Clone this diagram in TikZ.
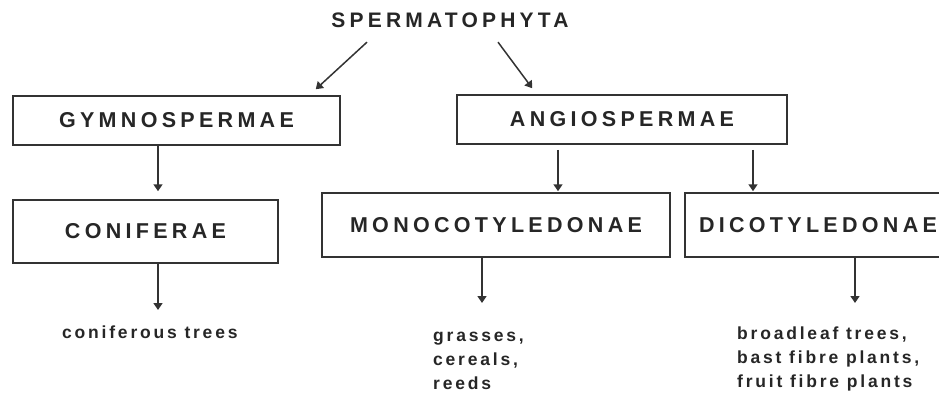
\documentclass[tikz,border=0pt]{standalone}
\usepackage{fontspec}
\setmainfont{Liberation Sans}
\newfontfamily\taxfont[LetterSpace=20]{Liberation Sans}
\newfontfamily\plantfont[LetterSpace=16]{Liberation Sans}
\usetikzlibrary{arrows.meta,positioning}
\tikzset{
  title/.style={inner sep=0pt, font=\taxfont\bfseries\fontsize{21}{24}\selectfont, text=black!85},
  taxon/.style={rectangle, draw=black!80, line width=1.5pt, inner sep=0pt,
                font=\taxfont\bfseries\fontsize{21.5}{24}\selectfont, text=black!85},
  uses/.style={align=left, inner sep=0pt, font=\plantfont\bfseries\fontsize{17.5}{24}\selectfont, text=black!85},
  arr/.style={-{Triangle[length=7pt,width=9pt]}, line width=1.5pt, draw=black!80},
}
\begin{document}
\begin{tikzpicture}[x=1pt, y=-1pt]
    \useasboundingbox (0,0) rectangle (939,396);
    \node[title] (sperm) at (450,20.5) {SPERMATOPHYTA};
    \node[taxon, minimum width=327pt, minimum height=49pt] (gym) at (176.5,120.5) {GYMNOSPERMAE};
    \node[taxon, minimum width=330pt, minimum height=49pt] (angio) at (622,119.5) {ANGIOSPERMAE};
    \node[taxon, minimum width=265pt, minimum height=63pt] (conif) at (145.5,231.5) {CONIFERAE};
    \node[taxon, minimum width=348pt, minimum height=64pt] (mono) at (496,225) {MONOCOTYLEDONAE};
    \node[taxon, minimum width=266pt, minimum height=64pt] (dico) at (818,225) {DICOTYLEDONAE};
    \node[uses, anchor=north west] (trees) at (62,321) {\strut coniferous trees};
    \node[uses, anchor=north west] (grass) at (433,324) {\strut grasses,\\cereals,\\reeds};
    \node[uses, anchor=north west] (broad) at (737,322) {\strut broadleaf trees,\\bast fibre plants,\\fruit fibre plants};
    \draw[arr] ([shift={(-83,14)}]sperm.south) -- ([shift={(-25,-6)}]gym.north east);
    \draw[arr] ([shift={(48,14)}]sperm.south) -- ([shift={(76,-6)}]angio.north west);
    \draw[arr, shorten >=8pt] ([xshift=-18.5pt]gym.south) -- ([xshift=-18.5pt]gym.south |- conif.north);
    \draw[arr, shorten <=5pt, shorten >=1pt] ([xshift=-64pt]angio.south) -- ([xshift=-64pt]angio.south |- mono.north);
    \draw[arr, shorten <=5pt, shorten >=1pt] ([xshift=131pt]angio.south) -- ([xshift=131pt]angio.south |- dico.north);
    \draw[arr, shorten >=11pt] ([xshift=12.5pt]conif.south) -- ([xshift=12.5pt]conif.south |- trees.north);
    \draw[arr, shorten >=21pt] ([xshift=-14pt]mono.south) -- ([xshift=-14pt]mono.south |- grass.north);
    \draw[arr, shorten >=19pt] ([xshift=37pt]dico.south) -- ([xshift=37pt]dico.south |- broad.north);
  \end{tikzpicture}
\end{document}
